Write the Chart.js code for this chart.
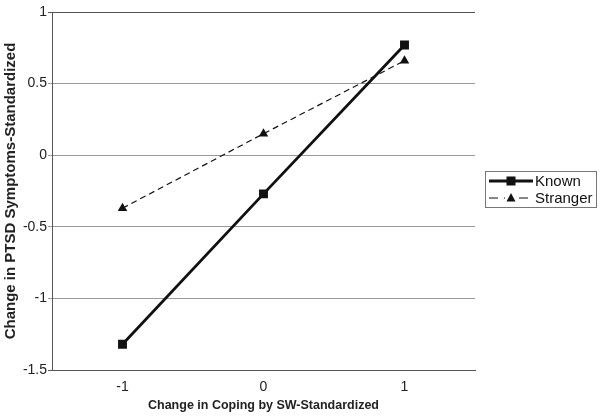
<!DOCTYPE html>
<html>
<head>
<meta charset="utf-8">
<script src="https://cdn.jsdelivr.net/npm/chart.js@4"></script>
<style>
  html, body { margin: 0; padding: 0; background: #fff; }
  #wrap { width: 601px; height: 419px; position: relative; }
</style>
</head>
<body>
<div id="wrap"><canvas id="c" width="601" height="419"></canvas></div>
<script>
const categories = ['-1', '0', '1'];
const knownValues = [-1.32, -0.27, 0.77];
const strangerValues = [-0.37, 0.15, 0.66];
const seriesNames = ['Known', 'Stranger'];
const yTickValues = [1, 0.5, 0, -0.5, -1, -1.5];
const xTitle = 'Change in Coping by SW-Standardized';
const yTitle = 'Change in PTSD Symptoms-Standardized';

const FONT = "'Liberation Sans', Arial, sans-serif";

const legendPlugin = {
  id: 'boxLegend',
  afterDraw(chart) {
    const ctx = chart.ctx;
    const x0 = 485, y0 = 171, w = 111, h = 36;
    ctx.save();
    ctx.strokeStyle = '#777';
    ctx.lineWidth = 1;
    ctx.strokeRect(x0 + 0.5, y0 + 0.5, w, h);
    ctx.font = '15px ' + FONT;
    ctx.fillStyle = '#111';
    ctx.textBaseline = 'middle';
    chart.data.datasets.forEach((ds, i) => {
      const yy = y0 + 10 + i * 17;
      const lx1 = x0 + 4, lx2 = x0 + 48, mx = (lx1 + lx2) / 2;
      ctx.save();
      ctx.strokeStyle = ds.borderColor;
      ctx.lineWidth = ds.borderWidth;
      ctx.setLineDash(ds.borderDash ? [9, 6] : []);
      ctx.beginPath();
      ctx.moveTo(lx1, yy);
      ctx.lineTo(lx2, yy);
      ctx.stroke();
      ctx.restore();
      ctx.fillStyle = '#111';
      if (ds.pointStyle === 'rect') {
        ctx.fillRect(mx - 4.5, yy - 4.5, 9, 9);
      } else {
        ctx.fillStyle = '#fff';
        ctx.fillRect(mx - 6, yy - 6, 12, 12);
        ctx.fillStyle = '#111';
        ctx.beginPath();
        ctx.moveTo(mx, yy - 5);
        ctx.lineTo(mx + 4.5, yy + 3.5);
        ctx.lineTo(mx - 4.5, yy + 3.5);
        ctx.closePath();
        ctx.fill();
      }
      ctx.fillText(ds.label, lx2 + 2, yy + 1);
    });
    ctx.restore();
  }
};

new Chart(document.getElementById('c'), {
  type: 'line',
  data: {
    labels: categories,
    datasets: [
      {
        label: seriesNames[0],
        data: knownValues,
        borderColor: '#111',
        backgroundColor: '#111',
        borderWidth: 2.8,
        pointStyle: 'rect',
        pointRadius: 6.3,
        pointBorderWidth: 0,
        tension: 0
      },
      {
        label: seriesNames[1],
        data: strangerValues,
        borderColor: '#111',
        backgroundColor: '#111',
        borderWidth: 1.2,
        borderDash: [6, 4],
        pointStyle: 'triangle',
        pointRadius: 5.5,
        pointBorderWidth: 0,
        tension: 0
      }
    ]
  },
  plugins: [legendPlugin],
  options: {
    responsive: false,
    animation: false,
    devicePixelRatio: 1,
    layout: { padding: { top: 12, right: 126, left: 0, bottom: 0 } },
    plugins: { legend: { display: false }, tooltip: { enabled: false } },
    scales: {
      x: {
        type: 'category',
        offset: true,
        grid: { display: false, drawTicks: false },
        border: { display: true, color: '#555', width: 1 },
        ticks: { color: '#222', font: { family: FONT, size: 14 }, padding: 9 },
        title: { display: true, text: xTitle, color: '#222', font: { family: FONT, size: 12.5, weight: 'bold' }, padding: { top: 2, bottom: 6 } },
        afterFit(scale) { scale.height = 49; }
      },
      y: {
        min: -1.5,
        max: 1,
        afterBuildTicks(scale) { scale.ticks = yTickValues.map(v => ({ value: v })); },
        grid: {
          color: (c) => (c.tick && (c.tick.value === 1 || c.tick.value === -1.5)) ? '#555' : '#999',
          lineWidth: 1,
          drawTicks: true,
          tickLength: 4
        },
        border: { display: true, color: '#555', width: 1 },
        ticks: {
          color: '#222',
          font: { family: FONT, size: 14 },
          padding: 1,
          callback: (v) => String(v)
        },
        title: { display: true, text: yTitle, color: '#222', font: { family: FONT, size: 15, weight: 'bold' }, padding: { top: 2, bottom: 0 } },
        afterFit(scale) { scale.width = 52; }
      }
    }
  }
});
</script>
</body>
</html>
